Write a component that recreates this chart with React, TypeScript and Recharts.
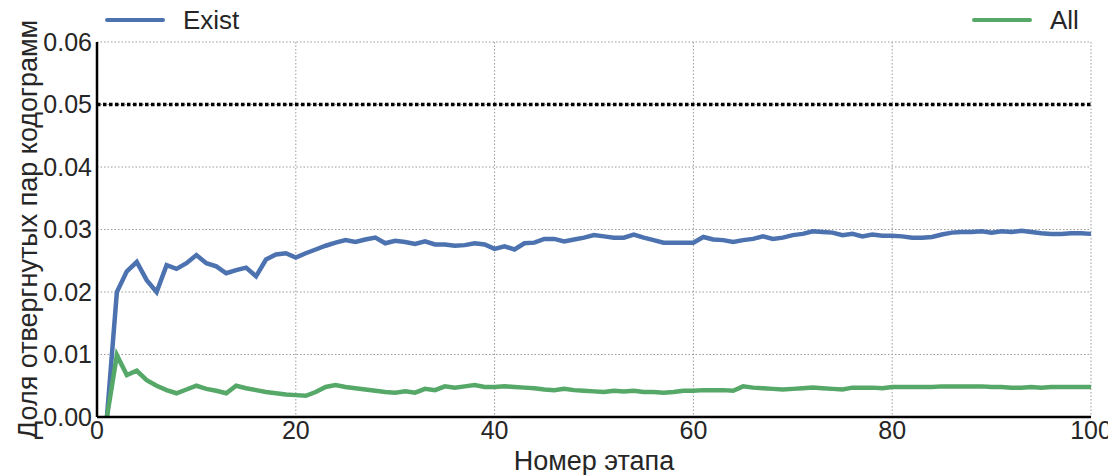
import { CartesianGrid, Label, Line, LineChart, ReferenceLine, XAxis, YAxis } from 'recharts';

// Stage numbers 1..100 on the x axis.
const STAGES = Array.from({ length: 100 }, (_, i) => i + 1);

const EXIST = [
  0, 0.02, 0.0233, 0.0248, 0.0219, 0.02, 0.0243, 0.0237, 0.0246, 0.0259,
  0.0246, 0.0241, 0.023, 0.0235, 0.0239, 0.0225, 0.0252, 0.026, 0.0262, 0.0255,
  0.0262, 0.0268, 0.0274, 0.0279, 0.0283, 0.028, 0.0284, 0.0287, 0.0278, 0.0282,
  0.028, 0.0277, 0.0281, 0.0276, 0.0276, 0.0274, 0.0275, 0.0278, 0.0276, 0.0269,
  0.0273, 0.0268, 0.0278, 0.0279, 0.0285, 0.0285, 0.0281, 0.0284, 0.0287, 0.0291,
  0.0289, 0.0287, 0.0287, 0.0292, 0.0287, 0.0283, 0.0279, 0.0279, 0.0279, 0.0279,
  0.0288, 0.0284, 0.0283, 0.028, 0.0283, 0.0285, 0.0289, 0.0285, 0.0287, 0.0291,
  0.0293, 0.0297, 0.0296, 0.0295, 0.0291, 0.0293, 0.0289, 0.0292, 0.029, 0.029,
  0.0289, 0.0287, 0.0287, 0.0288, 0.0292, 0.0295, 0.0296, 0.0296, 0.0297, 0.0295,
  0.0297, 0.0296, 0.0298, 0.0296, 0.0294, 0.0293, 0.0293, 0.0294, 0.0294, 0.0293,
];

const ALL = [
  0, 0.0099, 0.0067, 0.0074, 0.0059, 0.005, 0.0043, 0.0038, 0.0044, 0.005,
  0.0045, 0.0042, 0.0038, 0.005, 0.0046, 0.0043, 0.004, 0.0038, 0.0036, 0.0035,
  0.0034, 0.004, 0.0048, 0.0051, 0.0048, 0.0046, 0.0044, 0.0042, 0.004, 0.0039,
  0.0041, 0.0039, 0.0045, 0.0043, 0.0049, 0.0047, 0.0049, 0.0051, 0.0048, 0.0048,
  0.0049, 0.0048, 0.0047, 0.0046, 0.0044, 0.0043, 0.0045, 0.0043, 0.0042, 0.0041,
  0.004, 0.0042, 0.0041, 0.0042, 0.004, 0.004, 0.0039, 0.004, 0.0042, 0.0042,
  0.0043, 0.0043, 0.0043, 0.0042, 0.0049, 0.0047, 0.0046, 0.0045, 0.0044, 0.0045,
  0.0046, 0.0047, 0.0046, 0.0045, 0.0044, 0.0047, 0.0047, 0.0047, 0.0046, 0.0048,
  0.0048, 0.0048, 0.0048, 0.0048, 0.0049, 0.0049, 0.0049, 0.0049, 0.0049, 0.0048,
  0.0048, 0.0047, 0.0047, 0.0048, 0.0047, 0.0048, 0.0048, 0.0048, 0.0048, 0.0048,
];

const X_TICKS = [0, 20, 40, 60, 80, 100];
const Y_TICKS = [0, 0.01, 0.02, 0.03, 0.04, 0.05, 0.06];
const THRESHOLD = 0.05;

const BLUE = '#4c72b0';
const GREEN = '#55a868';
const TEXT = '#262626';
const FONT = '"Liberation Sans", Arial, sans-serif';

const data = STAGES.map((stage, i) => ({ stage, exist: EXIST[i], all: ALL[i] }));

function LegendItem({ color, label, left }: { color: string; label: string; left: number }) {
  return (
    <div style={{ position: 'absolute', top: 0, left, display: 'flex', alignItems: 'center', height: 24 }}>
      <div style={{ width: 60, height: 4, background: color, borderRadius: 2, marginRight: 18 }} />
      <span style={{ fontSize: 26, color: TEXT, lineHeight: '24px' }}>{label}</span>
    </div>
  );
}

export default function App() {
  // the svg is a bit wider than the root so the "100" tick label fits on the page
  return (
    <div style={{ position: 'relative', width: 1100, height: 467, fontFamily: FONT }}>
      <LineChart width={1108} height={467} data={data} margin={{ top: 34, right: 25, left: 0, bottom: 0 }}>
        <CartesianGrid stroke="#9a9a9a" strokeDasharray="1.5 2" strokeWidth={1} />
        <XAxis
          dataKey="stage"
          type="number"
          domain={[0, 100]}
          ticks={X_TICKS}
          height={58}
          tickSize={0}
          tickMargin={4}
          stroke="#000"
          strokeWidth={2.5}
          tick={{ fill: TEXT, fontSize: 25, fontFamily: FONT }}
        >
          <Label
            content={({ viewBox }: any) => (
              <text
                x={viewBox.x + viewBox.width / 2}
                y={viewBox.y + 53}
                textAnchor="middle"
                fill={TEXT}
                fontSize={27}
                fontFamily={FONT}
              >
                Номер этапа
              </text>
            )}
          />
        </XAxis>
        <YAxis
          type="number"
          domain={[0, 0.06]}
          ticks={Y_TICKS}
          width={89}
          tickSize={0}
          tickMargin={5}
          stroke="#000"
          strokeWidth={2.5}
          tickFormatter={(v: number) => v.toFixed(2)}
          tick={{ fill: TEXT, fontSize: 25, fontFamily: FONT }}
        >
          <Label
            content={({ viewBox }: any) => {
              const cx = viewBox.x + 20;
              const cy = viewBox.y + viewBox.height / 2;
              return (
                <text
                  x={cx}
                  y={cy}
                  transform={`rotate(-90, ${cx}, ${cy})`}
                  textAnchor="middle"
                  dominantBaseline="central"
                  fill={TEXT}
                  fontSize={27}
                  fontFamily={FONT}
                >
                  Доля отвергнутых пар кодограмм
                </text>
              );
            }}
          />
        </YAxis>
        <ReferenceLine y={THRESHOLD} stroke="#000" strokeWidth={3.5} strokeDasharray="3.5 2.5" />
        <Line dataKey="exist" stroke={BLUE} strokeWidth={4.5} dot={false} isAnimationActive={false} />
        <Line dataKey="all" stroke={GREEN} strokeWidth={4.5} dot={false} isAnimationActive={false} />
      </LineChart>
      <LegendItem color={BLUE} label="Exist" left={97} />
      <LegendItem color={GREEN} label="All" left={964} />
    </div>
  );
}
